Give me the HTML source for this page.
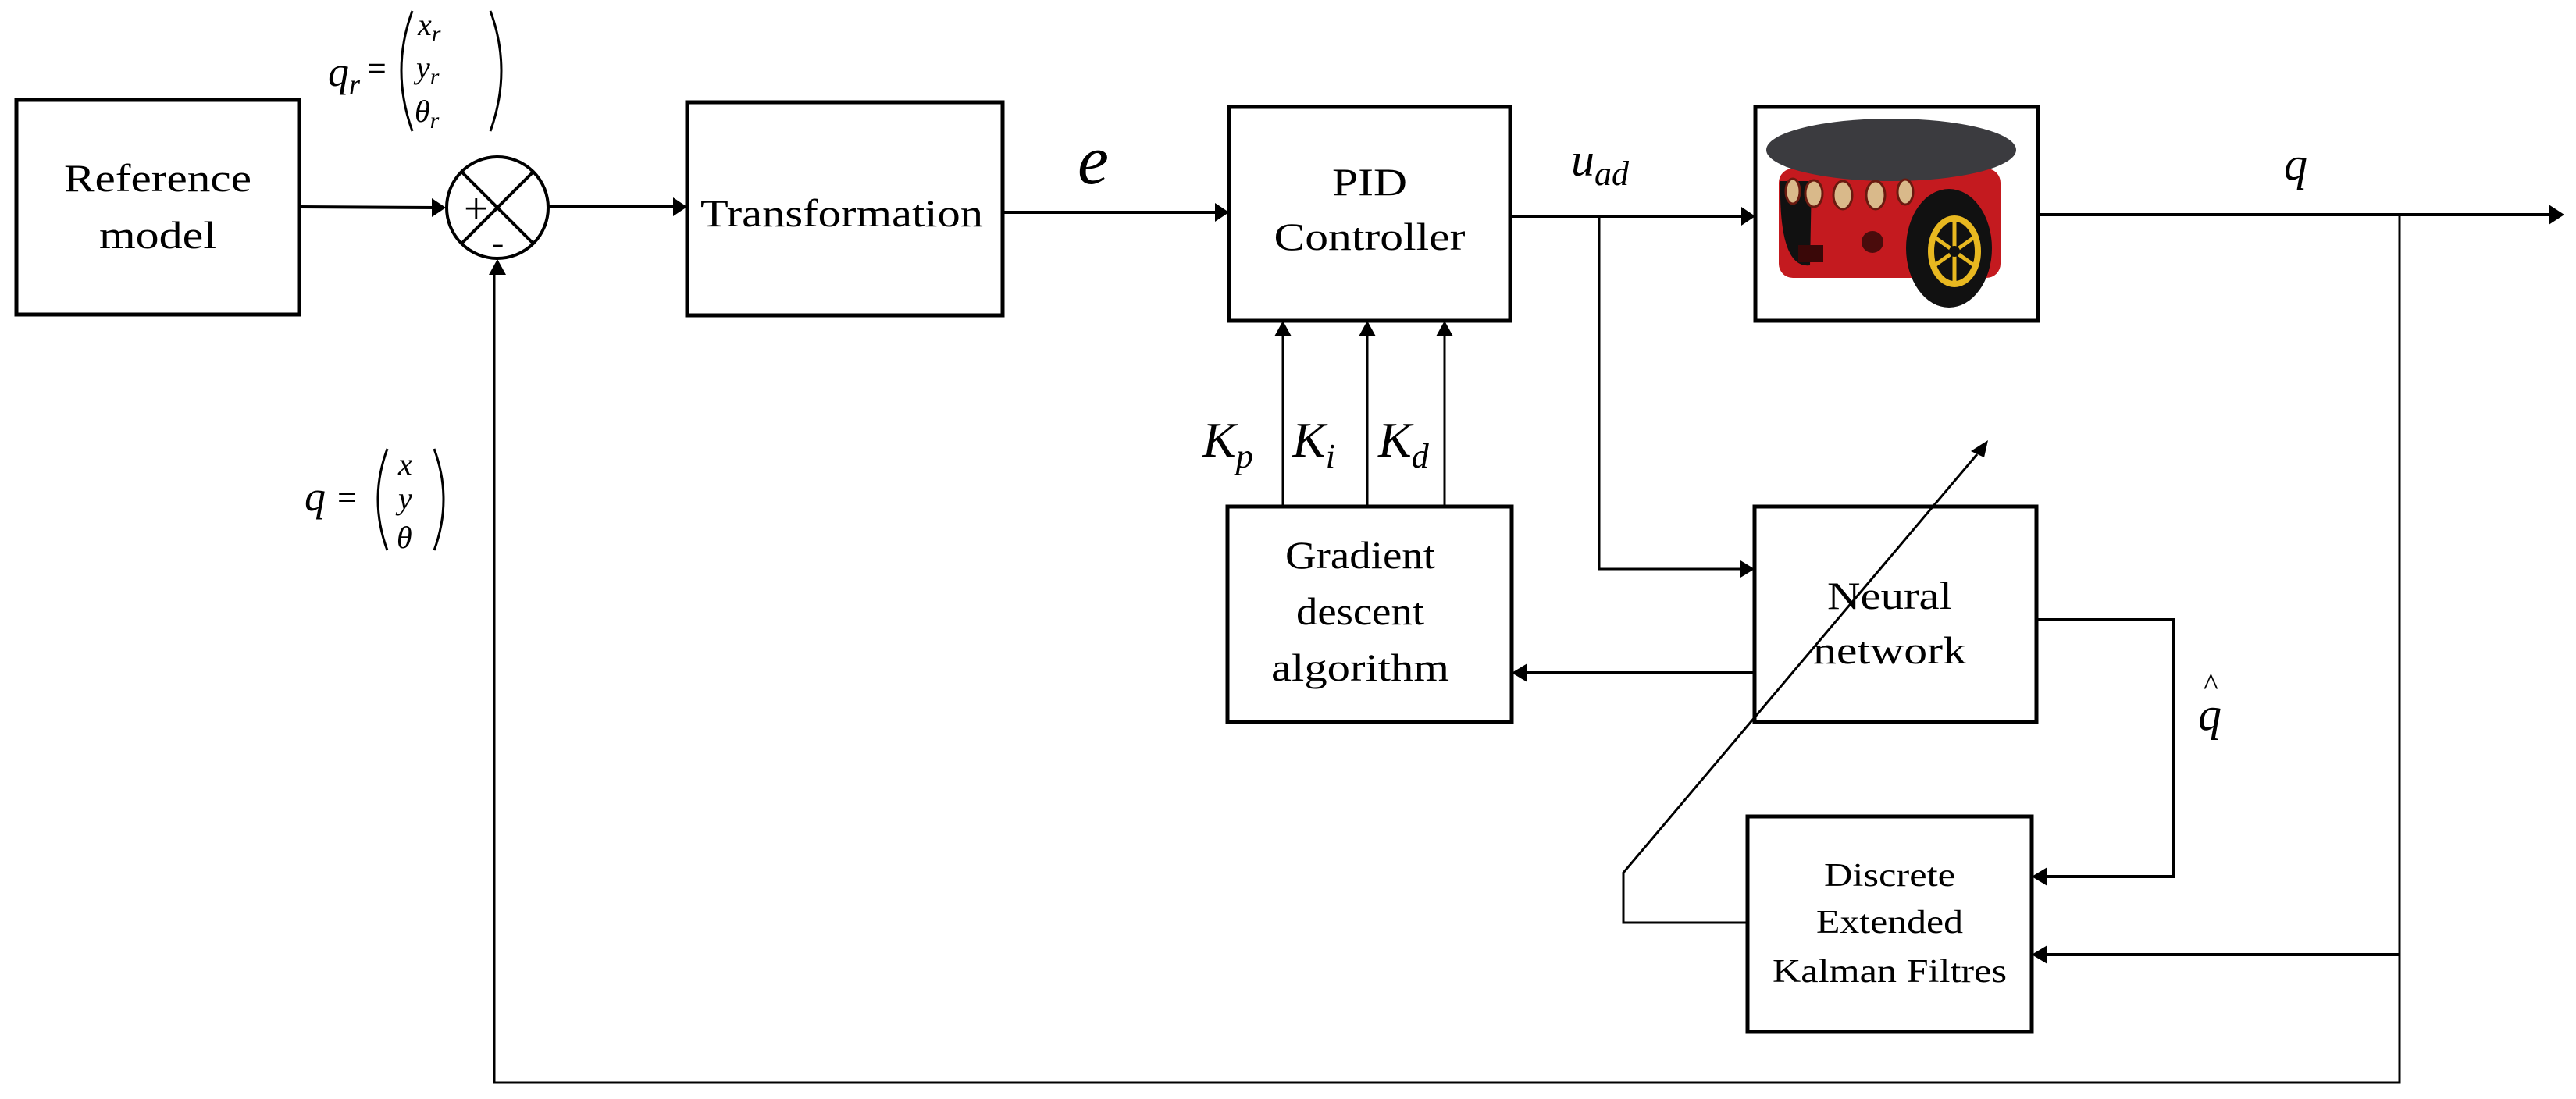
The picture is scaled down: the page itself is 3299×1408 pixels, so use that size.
<!DOCTYPE html>
<html><head><meta charset="utf-8"><style>
html,body{margin:0;padding:0;background:#fff}
svg{display:block}
text{font-family:"Liberation Serif","DejaVu Serif",serif;fill:#000}
.m{font-style:italic}
</style></head><body>
<svg width="3299" height="1408" viewBox="0 0 3299 1408" xmlns="http://www.w3.org/2000/svg">
<g fill="none" stroke="#000" stroke-width="5">
<rect x="21" y="128" width="362" height="275"/>
<rect x="880" y="131" width="404" height="273"/>
<rect x="1574" y="137" width="360" height="274"/>
<rect x="2248" y="137" width="362" height="274"/>
<rect x="1572" y="649" width="364" height="276"/>
<rect x="2247" y="649" width="361" height="276"/>
<rect x="2238" y="1046" width="364" height="276"/>
</g>
<g fill="none" stroke="#000" stroke-width="4">
<circle cx="637" cy="266" r="65"/>
<line x1="591" y1="220" x2="683" y2="312"/>
<line x1="683" y1="220" x2="591" y2="312"/>
</g>
<text x="594" y="286" font-size="56" font-family="Liberation Sans">+</text>
<text x="630" y="326" font-size="46" font-family="Liberation Sans">-</text>
<g fill="none" stroke="#000" stroke-width="4">
<line x1="383" y1="265" x2="560" y2="266"/>
<line x1="703" y1="265" x2="864" y2="265"/>
<line x1="1284" y1="272" x2="1558" y2="272"/>
<line x1="1934" y1="277" x2="2232" y2="277"/>
<line x1="2610" y1="275" x2="3268" y2="275"/>
<polyline points="2048,277 2048,729 2230,729" stroke-width="3"/>
<polyline points="3073,275 3073,1387 633,1387 633,350" stroke-width="3"/>
<line x1="3073" y1="1223" x2="2620" y2="1223"/>
<line x1="2247" y1="862" x2="1952" y2="862"/>
<polyline points="2608,794 2784,794 2784,1123 2620,1123" stroke-width="4"/>
<line x1="1643" y1="649" x2="1643" y2="428" stroke-width="3"/>
<line x1="1751" y1="649" x2="1751" y2="428" stroke-width="3"/>
<line x1="1850" y1="649" x2="1850" y2="428" stroke-width="3"/>
<polyline points="2238,1182 2079,1182 2079,1118 2532,582" stroke-width="3"/>
</g>
<g fill="#000">
<polygon points="571,266 553,254 553,278"/>
<polygon points="880,265 862,253 862,277"/>
<polygon points="1574,272 1556,260 1556,284"/>
<polygon points="2248,277 2230,265 2230,289"/>
<polygon points="3284,275 3264,262 3264,288"/>
<polygon points="2247,729 2229,718 2229,740"/>
<polygon points="637,332 626,352 648,352"/>
<polygon points="2602,1223 2622,1211 2622,1235"/>
<polygon points="2602,1123 2622,1111 2622,1135"/>
<polygon points="1936,862 1956,850 1956,874"/>
<polygon points="1643,411 1632,431 1654,431"/>
<polygon points="1751,411 1740,431 1762,431"/>
<polygon points="1850,411 1839,431 1861,431"/>
<polygon points="2546,564 2524,578 2541,586"/>
</g>
<g font-size="50" text-anchor="middle">
<text x="202" y="245" textLength="240" lengthAdjust="spacingAndGlyphs">Reference</text>
<text x="202" y="318" textLength="150" lengthAdjust="spacingAndGlyphs">model</text>
<text x="1078" y="290" textLength="362" lengthAdjust="spacingAndGlyphs">Transformation</text>
<text x="1754" y="250" textLength="96" lengthAdjust="spacingAndGlyphs">PID</text>
<text x="1754" y="320" textLength="245" lengthAdjust="spacingAndGlyphs">Controller</text>
<text x="1742" y="728" textLength="192" lengthAdjust="spacingAndGlyphs">Gradient</text>
<text x="1742" y="800" textLength="164" lengthAdjust="spacingAndGlyphs">descent</text>
<text x="1742" y="872" textLength="228" lengthAdjust="spacingAndGlyphs">algorithm</text>
<text x="2420" y="780" textLength="160" lengthAdjust="spacingAndGlyphs">Neural</text>
<text x="2420" y="850" textLength="196" lengthAdjust="spacingAndGlyphs">network</text>
</g>
<g font-size="42" text-anchor="middle">
<text x="2420" y="1135" textLength="168" lengthAdjust="spacingAndGlyphs">Discrete</text>
<text x="2420" y="1195" textLength="188" lengthAdjust="spacingAndGlyphs">Extended</text>
<text x="2420" y="1258" textLength="300" lengthAdjust="spacingAndGlyphs">Kalman Filtres</text>
</g>
<g class="m">
<text x="1380" y="235" font-size="90">e</text>
<text x="2012" y="225" font-size="60">u<tspan font-size="44" dy="12">ad</tspan></text>
<text x="2925" y="230" font-size="60">q</text>
<text x="2815" y="935" font-size="60">q</text>
<text x="1540" y="585" font-size="64">K<tspan font-size="44" dy="14">p</tspan></text>
<text x="1655" y="585" font-size="64">K<tspan font-size="44" dy="14">i</tspan></text>
<text x="1765" y="585" font-size="64">K<tspan font-size="44" dy="14">d</tspan></text>
<text x="420" y="110" font-size="54">q<tspan font-size="36" dy="10">r</tspan></text>
<text x="535" y="45" font-size="40">x<tspan font-size="30" dy="8">r</tspan></text>
<text x="533" y="100" font-size="40">y<tspan font-size="30" dy="8">r</tspan></text>
<text x="531" y="156" font-size="40">θ<tspan font-size="30" dy="8">r</tspan></text>
<text x="390" y="654" font-size="54">q</text>
<text x="510" y="608" font-size="40">x</text>
<text x="510" y="652" font-size="40">y</text>
<text x="508" y="702" font-size="40">θ</text>
</g>
<text x="2822" y="890" font-size="40">^</text>
<text x="470" y="102" font-size="44">=</text>
<text x="432" y="652" font-size="44">=</text>
<g fill="none" stroke="#000" stroke-width="3">
<path d="M528,14 Q500,90 528,168"/>
<path d="M628,14 Q656,90 628,168"/>
<path d="M496,575 Q472,640 496,705"/>
<path d="M556,575 Q580,640 556,705"/>
</g>
<g>
<rect x="2278" y="216" width="284" height="140" rx="18" fill="#c41a1f"/>
<path d="M2280,232 Q2278,345 2318,340 L2320,232 Z" fill="#111"/>
<ellipse cx="2422" cy="192" rx="160" ry="40" fill="#3b3b3f"/>
<g fill="#d9b98a" stroke="#6a1a10" stroke-width="3">
<ellipse cx="2296" cy="245" rx="9" ry="16"/>
<ellipse cx="2323" cy="248" rx="11" ry="17"/>
<ellipse cx="2360" cy="250" rx="12" ry="18"/>
<ellipse cx="2402" cy="250" rx="12" ry="18"/>
<ellipse cx="2440" cy="246" rx="10" ry="16"/>
</g>
<circle cx="2398" cy="310" r="14" fill="#4a0c0c"/>
<rect x="2303" y="314" width="32" height="22" fill="#3a0808"/>
<ellipse cx="2496" cy="318" rx="55" ry="76" fill="#111"/>
<ellipse cx="2503" cy="322" rx="30" ry="42" fill="none" stroke="#e8b820" stroke-width="8"/>
<g stroke="#e8b820" stroke-width="5">
<line x1="2503" y1="282" x2="2503" y2="362"/>
<line x1="2475" y1="302" x2="2531" y2="342"/>
<line x1="2475" y1="342" x2="2531" y2="302"/>
</g>
<circle cx="2503" cy="322" r="7" fill="#111"/>
</g>
</svg>
</body></html>
